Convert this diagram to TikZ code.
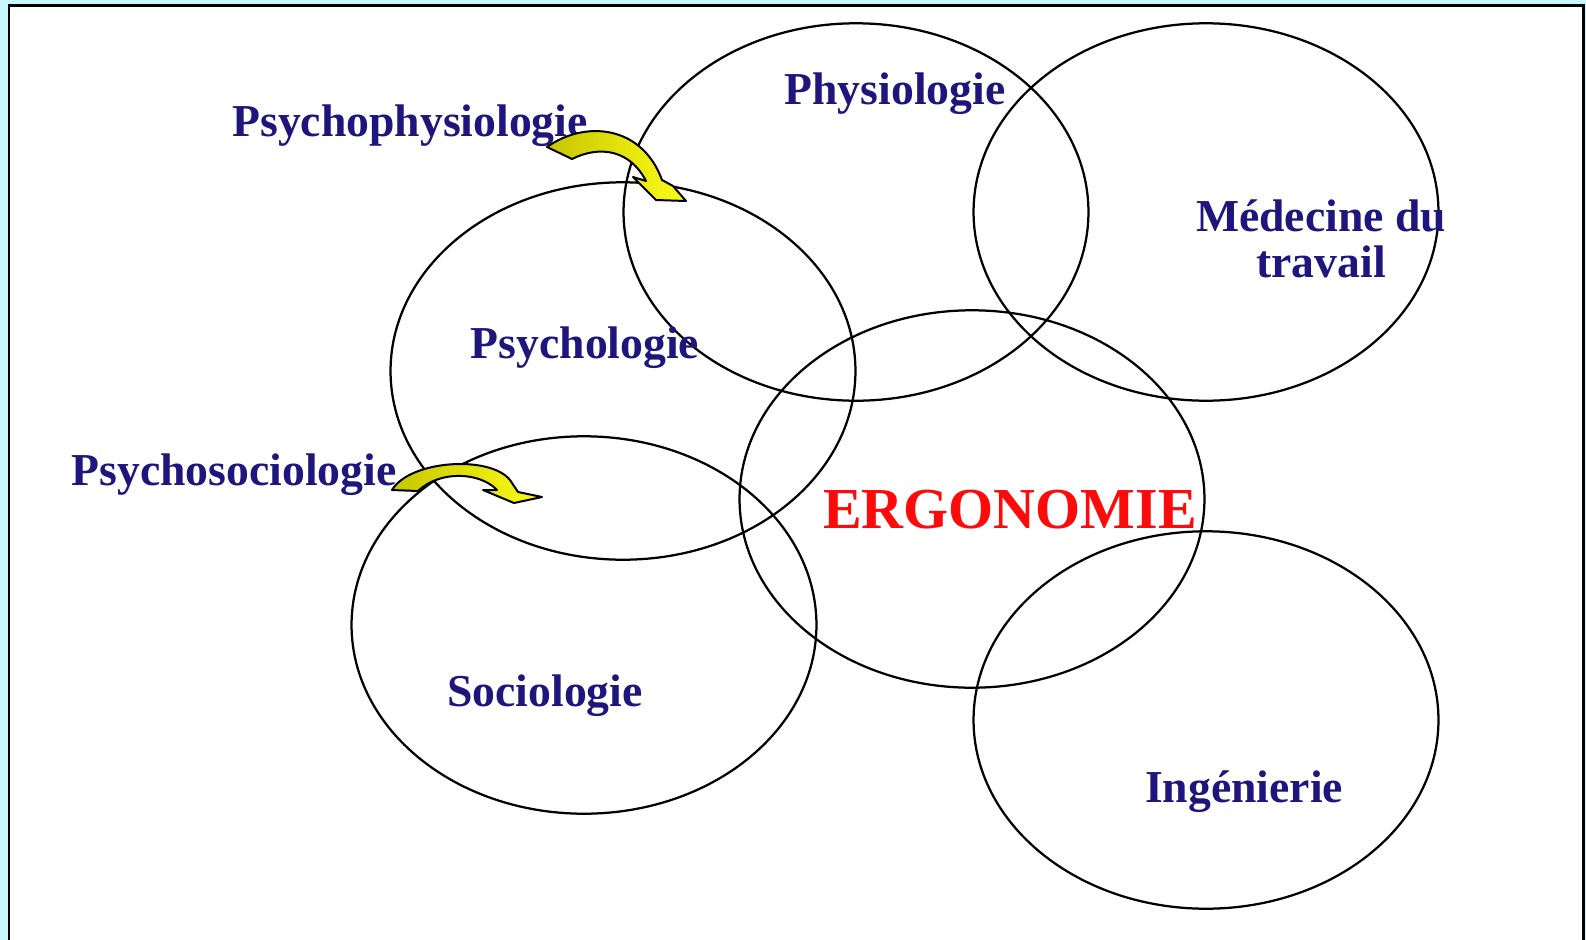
\documentclass[tikz,border=0pt]{standalone}
\usepackage{fontspec}
\setmainfont{Liberation Serif}
\usetikzlibrary{
  shapes,
  positioning,
}
\definecolor{ergoblue}{RGB}{30,22,125}
\definecolor{ergored}{RGB}{255,10,10}
\definecolor{slidebg}{RGB}{198,247,255}
\definecolor{arrowdark}{RGB}{198,198,0}
\definecolor{arrowlight}{RGB}{252,252,24}
\tikzstyle{disc} = [
  ellipse,
  draw,
  line width=0.45mm,
  minimum width=9.3cm,
  minimum height=7.55cm,
]
\tikzstyle{field} = [
  font=\fontsize{26}{26}\selectfont\bfseries,
  text=ergoblue,
  align=center,
  anchor=base,
  inner sep=0pt,
]
\tikzstyle{crossarrow} = [
  draw=black,
  line width=0.4mm,
  left color=arrowdark,
  right color=arrowlight,
  line join=round,
]

\begin{document}
\begin{tikzpicture}[x=0.02cm,y=-0.02cm]
  \fill[slidebg] (0,0) rectangle (1586,940);
  \useasboundingbox (0,0) rectangle (1586,940);
  \draw[fill=white,line width=0.6mm] (9,5) rectangle (1583,960);

  % the six fields
  \node[disc] (physio) at (856,212) {};
  \node[disc] (medecine) at (1206,212) {};
  \node[disc] (psycho) at (623,371) {};
  \node[disc] (ergo) at (972,499) {};
  \node[disc] (socio) at (584,625) {};
  \node[disc] (inge) at (1206,720) {};

  \node[field] (physiolbl) at (895,104) {Physiologie};
  \node[field] (medlbl) at (1321,277) {Médecine du\\travail};
  \node[field] (psycholbl) at (585,358) {Psychologie};
  \node[field] (sociolbl) at (545,706) {Sociologie};
  \node[field] (ingelbl) at (1244,802) {Ingénierie};
  \node[field,text=ergored,font=\fontsize{33}{36}\selectfont\bfseries] (ergolbl) at (1010,528) {ERGONOMIE};

  % the two cross-field labels and their arrows
  \node[field] (ppsylbl) at (410,136) {Psychophysiologie};
  \node[field] (psocilbl) at (234,485) {Psychosociologie};

  \draw[crossarrow] (547,147) .. controls (585,120) and (642,125) .. (662,180)
    -- (673,186) -- (686,201) -- (656,200) -- (633,177) -- (646,181)
    .. controls (630,150) and (600,145) .. (572,159) -- cycle;
  \draw[crossarrow] (392,490) .. controls (410,460) and (490,455) .. (510,480)
    -- (518,492) -- (542,497) -- (514,503) -- (483,490) -- (497,490)
    .. controls (480,472) and (440,470) .. (418,491) -- cycle;
\end{tikzpicture}
\end{document}
